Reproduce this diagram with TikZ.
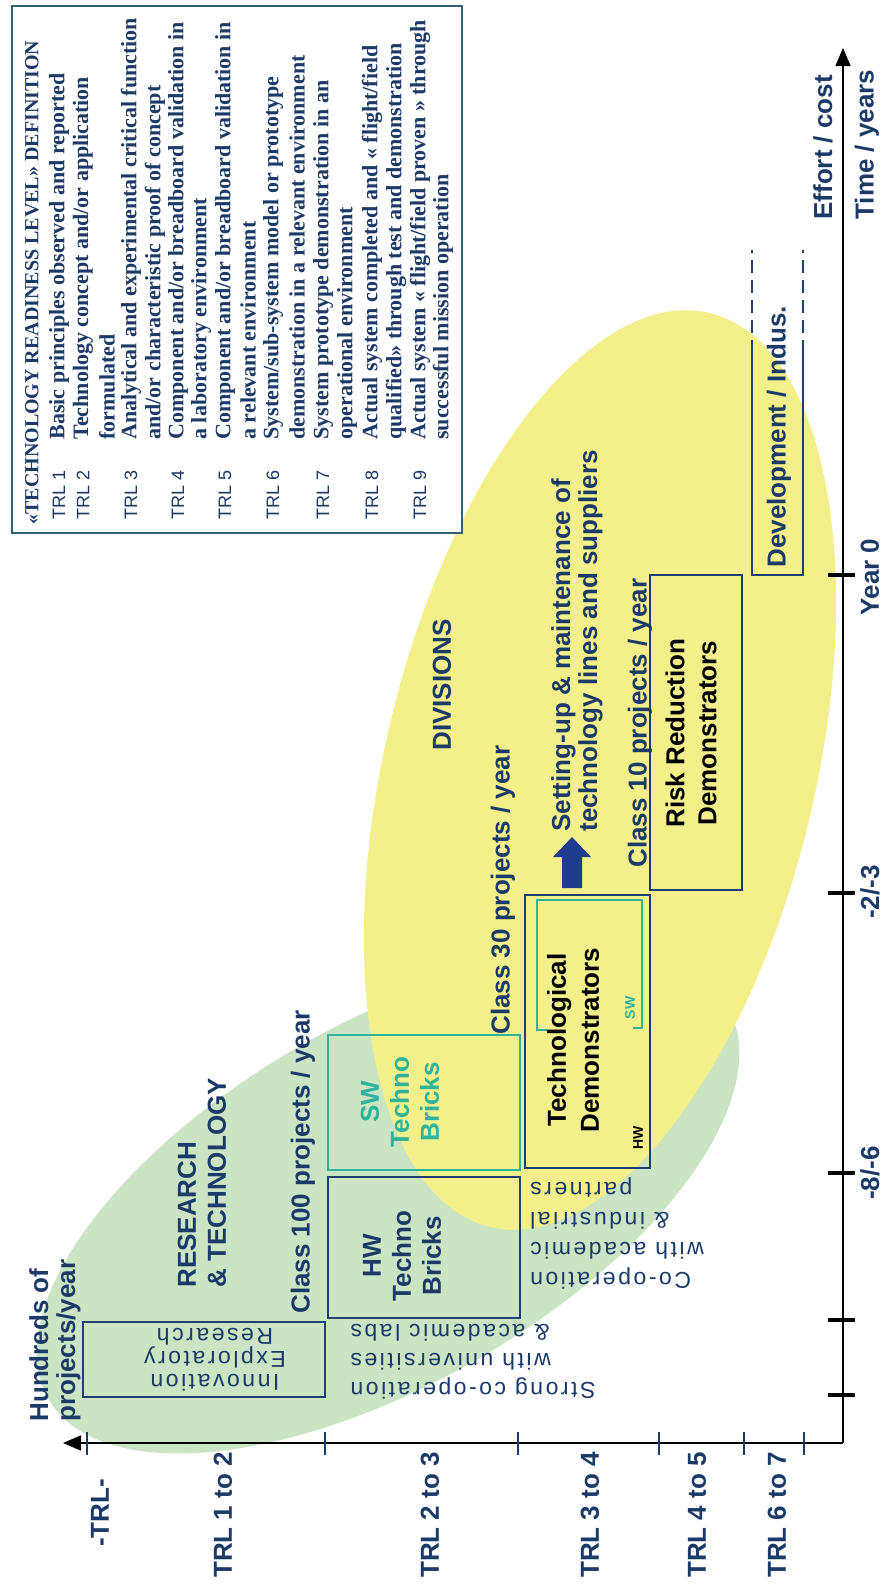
\documentclass[tikz,border=0pt]{standalone}
\usepackage{fontspec}
\setmainfont{Liberation Sans}
\newfontfamily\serifcond{Liberation Serif}
\newfontfamily\spaced[LetterSpace=11]{Liberation Sans}
\usetikzlibrary{arrows.meta}
\definecolor{cNavy}{HTML}{1C3A68}
\definecolor{cBox}{HTML}{1F3F73}
\definecolor{cTeal}{HTML}{2FB39A}
\definecolor{cGreen}{HTML}{CBE4C4}
\definecolor{cYellow}{HTML}{F3F08C}
\definecolor{cFrame}{HTML}{2F6275}
\definecolor{cArrow}{HTML}{1F3C8F}
\tikzset{
  lab/.style={rotate=90, inner sep=0pt, text=cNavy, font=\fontsize{13}{15}\selectfont\bfseries},
  flip/.style={rotate=180, inner sep=0pt, text=cNavy, align=right, font=\spaced\fontsize{11.5}{14.5}\selectfont},
  box/.style={draw=cBox, line width=1.3pt},
  swbox/.style={draw=cTeal, line width=1.2pt},
  tabline/.style={rotate=90, anchor=west, inner sep=0pt, text=cNavy, font=\serifcond\fontsize{11}{12}\selectfont\bfseries},
  trlcell/.style={rotate=90, anchor=west, inner sep=0pt, text=cNavy, font=\fontsize{9}{10}\selectfont},
  axis/.style={black, line width=0.8pt, -{Triangle[length=9pt, width=7.5pt]}},
  xtick/.style={cNavy, line width=1.2pt},
  ytick/.style={black, line width=2pt},
}
\begin{document}
\begin{tikzpicture}[x=0.5pt, y=-0.5pt]
  \useasboundingbox (0,0) rectangle (882,1587);
  \fill[white] (0,0) rectangle (882,1587);
  \fill[cGreen, rotate around={30:(388,1203)}] (388,1203) ellipse [x radius=392, y radius=180];
  \fill[cYellow, rotate around={76.5:(600,770)}] (600,770) ellipse [x radius=470, y radius=215];
  % TRL definition table
  \draw[cFrame, line width=1.2pt, fill=white] (12,6) rectangle (462,533);
  \node[tabline, font=\serifcond\fontsize{10}{12}\selectfont\bfseries] (tabhead) at (32,525) {«TECHNOLOGY READINESS LEVEL» DEFINITION};
  \foreach \x/\n in {59/1, 83/2, 131/3, 178/4, 225/5, 273/6, 323/7, 372/8, 420/9}
    \node[trlcell] (trl\n) at (\x,520) {TRL \n};
  \foreach \x/\t [count=\i] in {59/{Basic principles observed and reported},
      83/{Technology concept and/or application}, 107/{formulated},
      131/{Analytical and experimental critical function}, 155/{and/or characteristic proof of concept},
      178/{Component and/or breadboard validation in}, 201/{a laboratory environment},
      225/{Component and/or breadboard validation in}, 248/{a relevant environment},
      273/{System/sub-system model or prototype}, 297/{demonstration in a relevant environment},
      323/{System prototype demonstration in an}, 347/{operational environment},
      372/{Actual system completed and « flight/field}, 396/{qualified» through test and demonstration},
      420/{Actual system « flight/field proven » through}, 443/{successful mission operation}}
    \node[tabline] (def\i) at (\x,440) {\t};
  % boxes
  \draw[box] (83,1322) rectangle (325,1397);
  \draw[swbox] (328,1035) rectangle (520,1170);
  \draw[box] (328,1177) rectangle (520,1318);
  \draw[box] (525,895) rectangle (650,1168);
  \draw[swbox] (547,1030) -- (537,1030) -- (537,900) -- (642,900) -- (642,1028) -- (633,1028);
  \draw[box] (650,575) rectangle (742,890);
  \draw[box] (752,353) -- (752,575) -- (803,575) -- (803,353);
  \draw[box, dash pattern=on 6.5pt off 3.5pt] (752,353) -- (752,250) (803,353) -- (803,250);
  \fill[cArrow] (562,888) -- (562,857) -- (553,857) -- (572,837) -- (591,857) -- (582,857) -- (582,888) -- cycle;
  % axes
  \coordinate (origin) at (843,1443);
  \coordinate (trltip) at (63,1443);
  \coordinate (timetip) at (843,48);
  \draw[axis] (origin) -- (trltip);
  \draw[axis] (origin) -- (timetip);
  \foreach \x in {87,325,518,659,744,804} \draw[xtick] (\x,1432) -- (\x,1455);
  \foreach \y in {575,893,1173,1320,1395} \draw[ytick] (828,\y) -- (855,\y);
  % labels
  \node[lab] (trlhead) at (100,1513) {-TRL-};
  \foreach \x/\t in {223/1 to 2, 430/2 to 3, 590/3 to 4, 697/4 to 5, 777/6 to 7}
    \node[lab] (row\x) at (\x,1515) {TRL \t};
  \node[lab, anchor=west, align=left, font=\fontsize{13}{13.5}\selectfont\bfseries] (hundreds) at (55,1422) {Hundreds of\\projects/year};
  \node[lab, anchor=west, align=left] (rnt) at (202,1288) {RESEARCH\\\& TECHNOLOGY};
  \node[lab, anchor=west] (class100) at (303,1314) {Class 100 projects / year};
  \node[lab, align=center] (hwbricks) at (402,1256) {HW\\Techno\\Bricks};
  \node[lab, align=center, text=cTeal] (swbricks) at (400,1102) {SW\\Techno\\Bricks};
  \node[lab] (divisions) at (442,685) {DIVISIONS};
  \node[lab, anchor=west] (class30) at (503,1035) {Class 30 projects / year};
  \node[lab, align=center, text=black, font=\fontsize{13}{16.5}\selectfont\bfseries] (techdemo) at (573,1040) {Technological\\Demonstrators};
  \node[lab, text=cTeal, font=\fontsize{7}{8}\selectfont\bfseries] (swtag) at (630,1008) {SW};
  \node[lab, text=black, font=\fontsize{7}{8}\selectfont\bfseries] (hwtag) at (638,1138) {HW};
  \node[lab, anchor=west, align=left, font=\fontsize{13}{13.5}\selectfont\bfseries] (setting) at (577,832) {Setting-up \& maintenance of\\technology lines and suppliers};
  \node[lab, anchor=west] (class10) at (640,868) {Class 10 projects / year};
  \node[lab, align=center, text=black, font=\fontsize{13}{16}\selectfont\bfseries] (riskdemo) at (691,733) {Risk Reduction\\Demonstrators};
  \node[lab, anchor=west] (devel) at (779,568) {Development / Indus.};
  \foreach \y/\t in {577/{Year 0}, 892/{-2/-3}, 1173/{-8/-6}}
    \node[lab] (yr\y) at (870,\y) {\t};
  \node[lab, anchor=west] (effort) at (823,220) {Effort / cost};
  \node[lab, anchor=west] (timeyears) at (867,220) {Time / years};
  \node[flip, align=center, font=\spaced\fontsize{11.5}{11.5}\selectfont] (innov) at (215,1360) {Innovation\\Exploratory\\Research};
  \node[flip] (strong) at (473,1362) {Strong co-operation\\with universities\\\& academic labs};
  \node[flip, font=\spaced\fontsize{11.5}{15}\selectfont] (coop) at (617,1233) {Co-operation\\with academic\\\& industrial\\partners};
\end{tikzpicture}
\end{document}
